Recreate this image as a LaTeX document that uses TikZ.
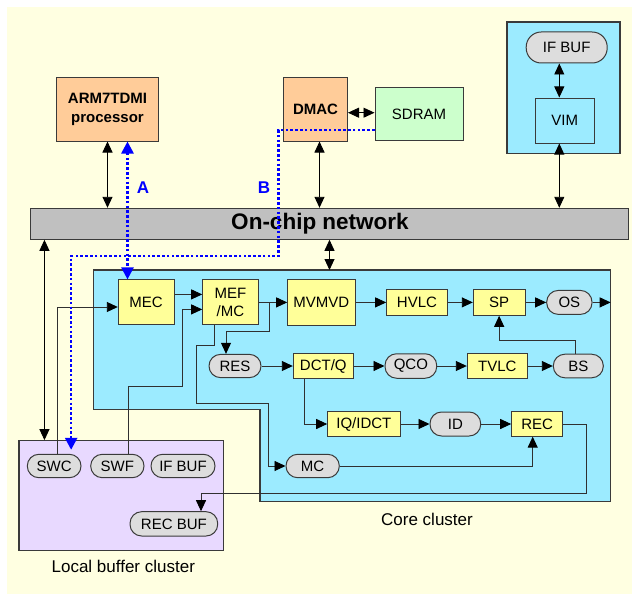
\documentclass[tikz,border=0pt]{standalone}
\usepackage{fontspec}
\setmainfont{Liberation Sans}
\usetikzlibrary{arrows.meta}

\definecolor{bgyellow}{HTML}{FFFFE1}
\definecolor{hostorange}{HTML}{FFCC99}
\definecolor{ramgreen}{HTML}{CCFFCC}
\definecolor{corecyan}{HTML}{9CEBFF}
\definecolor{unityellow}{HTML}{FFFF99}
\definecolor{bufgray}{HTML}{DDDDDD}
\definecolor{buflilac}{HTML}{E8D9FF}
\definecolor{netgray}{HTML}{C0C0C0}
\definecolor{edgegray}{HTML}{3A3A3A}
\definecolor{wiregray}{HTML}{303030}

\tikzset{
  sz/.style 2 args={minimum width=#1pt, minimum height=#2pt},
  box/.style={draw=edgegray, line width=1pt, inner sep=0pt, align=center,
    font=\fontsize{15}{18}\selectfont},
  host/.style={box, fill=hostorange, font=\fontsize{15}{19}\selectfont\bfseries},
  unit/.style={box, fill=unityellow},
  buf/.style={box, fill=bufgray, rounded corners=11.6pt},
  cluster/.style={draw=edgegray, line width=1.1pt},
  caption/.style={inner sep=0pt, font=\fontsize{17}{20}\selectfont},
  tip/.tip={Triangle[length=11pt, width=10pt, black]},
  bluetip/.tip={Triangle[length=12pt, width=12pt, blue]},
  wire/.style={draw=wiregray, line width=0.9pt, -tip},
  dbl/.style={draw=black, line width=0.9pt, tip-tip},
  bluedot/.style={draw=blue, line width=2.5pt, dash pattern=on 2.6pt off 2.2pt},
}

\begin{document}
\begin{tikzpicture}[x=1pt, y=-1pt]
  \useasboundingbox (0,0) rectangle (632,594);
  \fill[bgyellow] (7,7) rectangle (632,594);

  % host side
  \node[host, sz={102}{63}] (arm) at (107.5,109.5) {ARM7TDMI\\processor};
  \node[host, sz={64}{63}] (dmac) at (315.5,109.5) {DMAC};
  \node[box, fill=ramgreen, sz={88}{52}] (sdram) at (419,114) {SDRAM};

  % video input module
  \node[cluster, fill=corecyan, sz={113}{131.5}] (vimc) at (563.5,87.75) {};
  \node[buf, rounded corners=15pt, sz={81}{31}] (ifbufv) at (566.7,47.5) {IF BUF};
  \node[box, fill=corecyan, sz={58.5}{45}] (vim) at (564.8,120.5) {VIM};

  % on-chip network
  \node[draw=edgegray, line width=1pt, fill=netgray, sz={597.6}{31}] (net) at (329.5,223.8) {};
  \node[inner sep=0pt, font=\fontsize{22.5}{24}\selectfont\bfseries] (netlabel) at (320,224) {On-chip network};

  % core cluster outline
  \coordinate (coretl) at (93.3,270);
  \coordinate (coretr) at (610.7,270);
  \coordinate (corebr) at (610.7,501.7);
  \coordinate (corebm) at (260,501.7);
  \coordinate (corestep) at (260,409.5);
  \coordinate (corebl) at (93.3,409.5);
  \draw[cluster, fill=corecyan] (coretl) -- (coretr) -- (corebr) -- (corebm)
    -- (corestep) -- (corebl) -- cycle;
  \node[caption] (corecap) at (427,519) {Core cluster};

  % local buffer cluster
  \node[cluster, fill=buflilac, sz={204.3}{110}] (lbc) at (121.15,495.7) {};
  \node[caption] (lbccap) at (123.3,566) {Local buffer cluster};

  % core units
  \node[unit, sz={55.7}{45}] (mec) at (146.15,302.4) {MEC};
  \node[unit, sz={55.3}{45}] (mef) at (230.35,302.4) {MEF\\/MC};
  \node[unit, sz={67.3}{45.5}] (mvmvd) at (321.35,302.4) {MVMVD};
  \node[unit, sz={60.6}{25.7}] (hvlc) at (417,302.4) {HVLC};
  \node[unit, sz={51.7}{25.7}] (sp) at (499.15,302.4) {SP};
  \node[buf, sz={45.3}{24}] (os) at (569.35,302.4) {OS};

  \node[buf, sz={52}{23.3}] (res) at (235,366) {RES};
  \node[unit, sz={60}{25}] (dctq) at (323.3,366) {DCT/Q};
  \node[buf, sz={51.7}{24.5}] (qco) at (410.85,366) {QCO};
  \node[unit, sz={60}{25}] (tvlc) at (497.3,366) {TVLC};
  \node[buf, sz={50}{23.6}] (bs) at (578.3,366) {BS};

  \node[unit, sz={72.3}{24.4}] (iq) at (363.85,424) {IQ/IDCT};
  \node[buf, sz={50.7}{24}] (id) at (455.35,424) {ID};
  \node[unit, sz={51}{24.3}] (rec) at (537.2,424) {REC};
  \node[buf, sz={53.3}{23.4}] (mc) at (312.65,466) {MC};

  % local buffers
  \node[buf, sz={53.7}{23.4}] (swc) at (54.15,466) {SWC};
  \node[buf, sz={53.3}{23.4}] (swf) at (117.35,466) {SWF};
  \node[buf, sz={64}{23.4}] (ifbufl) at (183,466) {IF BUF};
  \node[buf, sz={87.7}{24.3}] (recbuf) at (173.85,523.85) {REC BUF};

  % bends of the data paths
  \coordinate (swfk) at (182.3,386);
  \coordinate (mefbr) at (269.3,302.4);
  \coordinate (resk) at (226,331.7);
  \coordinate (mck1) at (196,345.3);
  \coordinate (mck2) at (268.3,403.3);
  \coordinate (spk) at (499.15,340);
  \coordinate (reck) at (586,493.3);
  \coordinate (bturn) at (278.5,256);

  % data paths inside the core
  \draw[wire] ([yshift=8pt]mec.east) -- ([yshift=8pt]mec.east -| mef.west);
  \draw[wire] ([xshift=3.5pt]swc.north) |- ([yshift=-4.6pt]mec.west);
  \draw[wire] ([xshift=11pt]swf.north) |- (swfk) |- ([yshift=-7pt]mef.west);
  \draw[wire] (mef.east) -- (mvmvd.west);
  \draw[wire] (mefbr) |- (resk) -- (resk |- res.north);
  \draw[wire] ([xshift=-16.35pt]mef.south) |- (mck1) |- (mck2) |- (mc.west);
  \draw[wire] (mvmvd.east) -- (hvlc.west);
  \draw[wire] (hvlc.east) -- (sp.west);
  \draw[wire] (sp.east) -- (os.west);
  \draw[wire] (os.east) -- (os.east -| coretr);
  \draw[wire] ([xshift=-2.6pt]bs.north) |- (spk) -- (sp.south);
  \draw[wire] (res.east) -- (dctq.west);
  \draw[wire] (dctq.east) -- (qco.west);
  \draw[wire] (qco.east) -- (tvlc.west);
  \draw[wire] (tvlc.east) -- (bs.west);
  \draw[wire] ([xshift=-19.3pt]dctq.south) |- (iq.west);
  \draw[wire] (iq.east) -- (id.west);
  \draw[wire] (id.east) -- (rec.west);
  \draw[wire] (mc.east) -| ([xshift=-4.5pt]rec.south);
  \draw[wire] (rec.east) -| (reck) -| ([xshift=27.15pt]recbuf.north);

  % links to the network and between hosts
  \draw[dbl] (arm.south) -- (arm.south |- net.north);
  \draw[dbl] ([xshift=4pt]dmac.south) -- ([xshift=4pt]dmac.south |- net.north);
  \draw[dbl] ([xshift=-5.5pt]vim.south) -- ([xshift=-5.5pt]vim.south |- net.north);
  \draw[dbl] (net.south) -- (net.south |- coretl);
  \draw[dbl] ([xshift=26pt]lbc.north west) -- ([xshift=26pt]lbc.north west |- net.south);
  \draw[dbl] ([yshift=1.3pt]sdram.west) -- ([yshift=1.3pt]sdram.west -| dmac.east);
  \draw[dbl] ([xshift=-7.4pt]ifbufv.south) -- ([xshift=-7.4pt]ifbufv.south |- vim.north);

  % transfer paths A and B
  \draw[bluedot, bluetip-bluetip] ([xshift=20pt]arm.south) -- ([xshift=20pt]arm.south |- mec.north);
  \draw[bluedot, -bluetip] ([yshift=-16pt]sdram.west) -| (bturn) -| ([xshift=17pt,yshift=4pt]swc.north);
  \node[text=blue, inner sep=0pt, font=\fontsize{17}{20}\selectfont\bfseries] (labA) at (143,188) {A};
  \node[text=blue, inner sep=0pt, font=\fontsize{17}{20}\selectfont\bfseries] (labB) at (264,188) {B};
\end{tikzpicture}
\end{document}
